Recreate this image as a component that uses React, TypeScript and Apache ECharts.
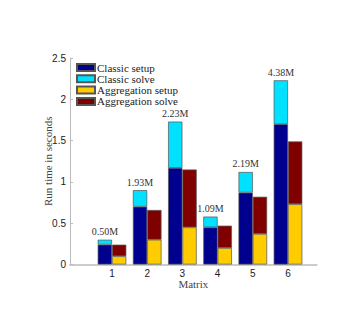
import React, { useEffect, useRef } from "react";
import * as echarts from "echarts";

const categories = ["1", "2", "3", "4", "5", "6"];
const matrixSizes = ["0.50M", "1.93M", "2.23M", "1.09M", "2.19M", "4.38M"];
const classicSetup = [0.24, 0.70, 1.17, 0.45, 0.87, 1.70];
const classicSolve = [0.06, 0.20, 0.56, 0.13, 0.25, 0.53];
const aggSetup = [0.10, 0.30, 0.45, 0.20, 0.37, 0.73];
const aggSolve = [0.14, 0.36, 0.70, 0.27, 0.45, 0.76];
const yTicks = ["0", "0.5", "1", "1.5", "2", "2.5"];

const serif = "Liberation Serif";
const sans = "Liberation Sans";

export default function App() {
  const ref = useRef<HTMLDivElement>(null);
  useEffect(() => {
    if (!ref.current) return;
    const chart = echarts.init(ref.current, undefined, { renderer: "svg" });
    const border = { borderColor: "#555", borderWidth: 0.7 };
    const mk = (name: string, stack: string, data: number[], color: string, extra: any = {}) => ({
      name,
      type: "bar",
      stack,
      xAxisIndex: 1,
      yAxisIndex: 1,
      data,
      barWidth: 14.3,
      barGap: "0%",
      itemStyle: { color, ...border },
      ...extra,
    });
    const top = 58;
    const bottom = 67.5;
    chart.setOption({
      animation: false,
      grid: [
        { left: 70, right: 42.3, top, bottom, outerBoundsMode: "none" },
        { left: 94.4, right: 53.4, top, bottom, outerBoundsMode: "none" },
      ],
      legend: {
        orient: "vertical",
        left: 71,
        top: 57,
        itemWidth: 18,
        itemHeight: 7,
        itemGap: 0.3,
        icon: "rect",
        textStyle: { fontFamily: serif, fontSize: 11, lineHeight: 8, color: "#222", padding: [0, 0, 0, -3] },
        data: ["Classic setup", "Classic solve", "Aggregation setup", "Aggregation solve"],
      },
      xAxis: [
        {
          type: "value",
          gridIndex: 0,
          min: 0,
          max: 1,
          name: "Matrix",
          nameLocation: "middle",
          nameGap: 13.5,
          nameMoveOverlap: false,
          nameTextStyle: { fontFamily: serif, fontSize: 11, lineHeight: 11, color: "#444" },
          axisLine: { show: true, lineStyle: { color: "#ccc", width: 2 } },
          axisTick: { show: false },
          axisLabel: { show: false },
          splitLine: { show: false },
        },
        {
          type: "category",
          gridIndex: 1,
          data: categories,
          axisLine: { show: false },
          axisTick: { show: false },
          splitLine: { show: false },
          axisLabel: { fontFamily: sans, fontSize: 10, lineHeight: 10, color: "#222", margin: 3.5 },
        },
      ],
      yAxis: [
        {
          type: "value",
          gridIndex: 0,
          min: 0,
          max: 2.5,
          interval: 0.5,
          name: "Run time in seconds",
          nameLocation: "middle",
          nameGap: 17,
          nameMoveOverlap: false,
          nameTextStyle: { fontFamily: serif, fontSize: 11, color: "#444" },
          axisLine: { show: true, lineStyle: { color: "#bbb", width: 1 } },
          axisTick: { show: true, inside: true, length: 3, lineStyle: { color: "#bbb" } },
          splitLine: { show: false },
          axisLabel: {
            fontFamily: sans,
            fontSize: 10,
            color: "#222",
            margin: 4,
            formatter: (v: number) => yTicks[Math.round(v / 0.5)] ?? "",
          },
        },
        {
          type: "value",
          gridIndex: 1,
          min: 0,
          max: 2.5,
          interval: 0.5,
          show: false,
          splitLine: { show: false },
        },
      ],
      series: [
        mk("Classic setup", "classic", classicSetup, "#00008F"),
        mk("Classic solve", "classic", classicSolve, "#00E0FF", {
          label: {
            show: true,
            position: "top",
            distance: 3,
            fontFamily: serif,
            fontSize: 10,
            color: "#333",
            formatter: (p: any) => matrixSizes[p.dataIndex],
          },
        }),
        mk("Aggregation setup", "agg", aggSetup, "#FFCC00"),
        mk("Aggregation solve", "agg", aggSolve, "#800000"),
      ],
    });
    return () => chart.dispose();
  }, []);
  return <div ref={ref} style={{ position: "fixed", left: 0, top: 0, width: 359, height: 332, background: "#fff" }} />;
}
